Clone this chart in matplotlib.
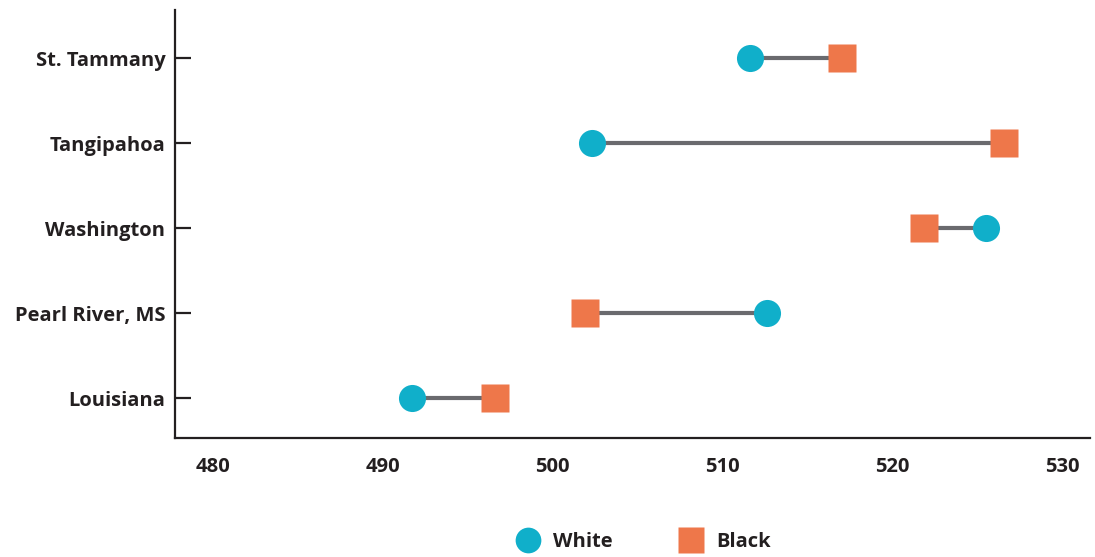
import matplotlib.pyplot as plt

plt.rcParams['font.family'] = ['Open Sans', 'DejaVu Sans']

# data
places = ['Louisiana', 'Pearl River, MS', 'Washington', 'Tangipahoa', 'St. Tammany']
white = [491.7, 512.6, 525.5, 502.3, 511.6]
black = [496.6, 501.9, 521.9, 526.6, 517.05]

teal = '#10afca'
orange = '#ee774a'
txt = '#231f20'

fig = plt.figure(figsize=(10.95, 5.57), dpi=100)
ax = fig.add_axes([0.1598, 0.2136, 0.8356, 0.7684])

ypos = list(range(len(places)))
for y, w, b in zip(ypos, white, black):
    ax.plot([w, b], [y, y], color='#6a6a6e', lw=3, zorder=1)
ax.plot(white, ypos, 'o', ms=19.5, color=teal, mec='none', zorder=3, label='White')
ax.plot(black, ypos, 's', ms=20, color=orange, mec='none', zorder=3, label='Black')

ax.set_xlim(477.76, 531.65)
ax.set_ylim(-0.47, 4.565)
ax.set_xticks([480, 490, 500, 510, 520, 530])
ax.set_yticks(ypos)
ax.set_yticklabels(places)

for s in ['top', 'right']:
    ax.spines[s].set_visible(False)
for s in ['left', 'bottom']:
    ax.spines[s].set_linewidth(1.6)
    ax.spines[s].set_color(txt)

ax.tick_params(axis='y', direction='in', length=11.5, width=1.6, color=txt, pad=7)
ax.tick_params(axis='x', length=0, pad=14)
for lab in ax.get_xticklabels() + ax.get_yticklabels():
    lab.set_fontweight('bold')
    lab.set_fontsize(14.5)
    lab.set_color(txt)

leg = fig.legend(loc='lower center', bbox_to_anchor=(0.584, -0.024), ncol=2, frameon=False,
                 fontsize=14.5, handletextpad=0.25, columnspacing=2.9, markerscale=0.95)
for t in leg.get_texts():
    t.set_fontweight('bold')
    t.set_color(txt)

fig.savefig('out.png', dpi=100)
